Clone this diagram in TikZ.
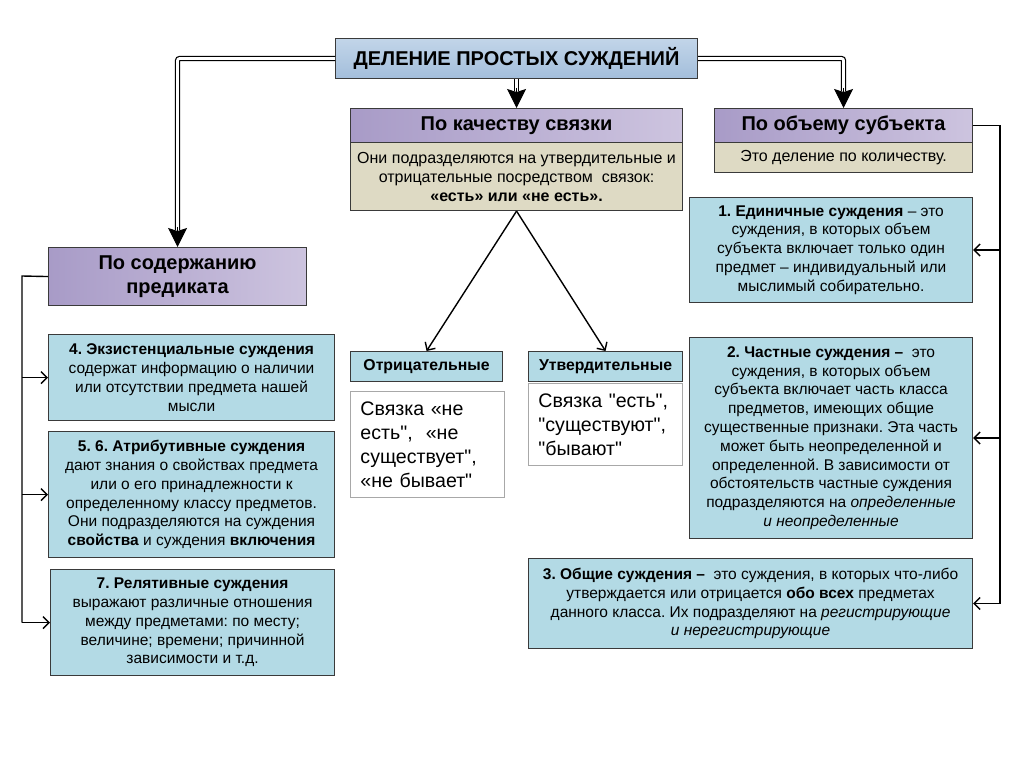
\documentclass[tikz,border=0pt]{standalone}
\usepackage{fontspec}
\setmainfont{Liberation Sans}[Ligatures=TeXOff]
\usetikzlibrary{arrows.meta}
\definecolor{titleA}{HTML}{A3BEDB}
\definecolor{titleB}{HTML}{C2D5E9}
\definecolor{purA}{HTML}{A89BC7}
\definecolor{purB}{HTML}{CDC4DF}
\definecolor{beige}{HTML}{DEDAC4}
\definecolor{aqua}{HTML}{B3DAE5}
\definecolor{bord}{HTML}{3A3A3A}
\definecolor{wbord}{HTML}{A8A8A8}
\newcommand\bodyfs{\fontsize{15.5}{18.8}\selectfont}
\newcommand\headfs{\bfseries\fontsize{20}{24}\selectfont}
\frenchspacing
\begin{document}
\frenchspacing
\begin{tikzpicture}[x=1pt,y=1pt,
  box/.style={draw=bord, line width=1.1pt, anchor=north west, inner sep=2pt, align=center, font=\bodyfs},
  purbox/.style={box, left color=purA, right color=purB, font=\headfs},
  beigebox/.style={box, fill=beige},
  aquabox/.style={box, fill=aqua},
  whitebox/.style={draw=wbord, line width=0.9pt, fill=white, anchor=north west, inner xsep=10pt, inner ysep=4pt, text width=134pt, align=left, font=\fontsize{19.6}{24}\selectfont},
  ln/.style={line width=1.4pt, draw=black},
  arr/.style={ln, -{Straight Barb[length=6pt,width=12pt,line width=1.4pt]}},
  dbl/.style={draw=black, line width=1.2pt, double=white, double distance=2.8pt, rounded corners=2pt},
  bigtip/.style={draw=black, line width=1pt, -{Stealth[length=19pt,width=19pt,inset=3pt]}}
]
\useasboundingbox[fill=white] (0,0) rectangle (1024,-767);

% title
\node[box, top color=titleB, bottom color=titleA, minimum width=362pt, minimum height=40pt,
      font=\bfseries\fontsize{20}{24}\selectfont] (title) at (335,-38) {ДЕЛЕНИЕ ПРОСТЫХ СУЖДЕНИЙ};

% quality
\node[purbox, minimum width=332pt, minimum height=34pt] (qh) at (350,-108) {По качеству связки};
\node[beigebox, minimum width=332pt, minimum height=68pt, font=\fontsize{16}{19}\selectfont] (qb) at (350,-142)
  {Они подразделяются на утвердительные и\\отрицательные посредством\ \ связок:\\\textbf{«есть» или «не есть».}};

% volume
\node[purbox, minimum width=258pt, minimum height=34pt] (vh) at (714,-108) {По объему субъекта};
\node[beigebox, minimum width=258pt, minimum height=30pt, font=\fontsize{16}{19}\selectfont] (vb) at (714,-142) {Это деление по количеству.};

% predicate
\node[purbox, minimum width=258pt, minimum height=58pt, font=\bfseries\fontsize{20}{24}\selectfont] (pred) at (48,-247) {По содержанию\\предиката};

% left boxes
\node[aquabox, minimum width=286pt, minimum height=86pt] (b4) at (48,-334)
  {\textbf{4. Экзистенциальные суждения}\\содержат информацию о наличии\\или отсутствии предмета нашей\\мысли};
\node[aquabox, minimum width=286pt, minimum height=126pt] (b5) at (48,-431)
  {\textbf{5. 6. Атрибутивные суждения}\\дают знания о свойствах предмета\\или о его принадлежности к\\определенному классу предметов.\\Они подразделяются на суждения\\\textbf{свойства} и суждения \textbf{включения}};
\node[aquabox, minimum width=284pt, minimum height=106pt] (b7) at (50,-569)
  {\textbf{7. Релятивные суждения}\\выражают различные отношения\\между предметами: по месту;\\величине; времени; причинной\\зависимости и т.д.};

% middle
\node[aquabox, minimum width=152pt, minimum height=30pt, font=\bfseries\fontsize{15.8}{18}\selectfont] (neg) at (350,-351) {Отрицательные};
\node[aquabox, minimum width=154pt, minimum height=30pt, font=\bfseries\fontsize{15.8}{18}\selectfont] (pos) at (528,-351) {Утвердительные};
\node[whitebox, minimum width=154pt, minimum height=106pt] (w1) at (350,-391)
  {Связка «не\\есть",\ \ «не\\существует",\\«не бывает"};
\node[whitebox, minimum width=154pt, minimum height=82pt] (w2) at (528,-383)
  {Связка "есть",\\"существуют",\\"бывают"};

% right boxes
\node[aquabox, minimum width=283pt, minimum height=105pt] (r1) at (689,-197)
  {\textbf{1. Единичные суждения} – это\\суждения, в которых объем\\субъекта включает только один\\предмет – индивидуальный или\\мыслимый собирательно.};
\node[aquabox, minimum width=283pt, minimum height=201pt] (r2) at (689,-337)
  {\textbf{2. Частные суждения –}\ \ это\\суждения, в которых объем\\субъекта включает часть класса\\предметов, имеющих общие\\существенные признаки. Эта часть\\может быть неопределенной и\\определенной. В зависимости от\\обстоятельств частные суждения\\подразделяются на \textit{определенные}\\\textit{и неопределенные}};
\node[aquabox, minimum width=444pt, minimum height=90pt] (r3) at (528,-558)
  {\textbf{3. Общие суждения –}\ \ это суждения, в которых что-либо\\утверждается или отрицается \textbf{обо всех} предметах\\данного класса. Их подразделяют на \textit{регистрирующие}\\\textit{и нерегистрирующие}};

% double connectors
\draw[dbl] (title.west) -| ([yshift=17pt]pred.north);
\draw[bigtip] ([yshift=20pt]pred.north) -- (pred.north);
\draw[dbl] (title.south) -- ([yshift=17pt]qh.north);
\draw[bigtip] ([yshift=20pt]qh.north) -- (qh.north);
\draw[dbl] (title.east) -| ([yshift=17pt]vh.north);
\draw[bigtip] ([yshift=20pt]vh.north) -- (vh.north);

% quality split
\draw[arr] (qb.south) -- (neg.north);
\draw[arr] (qb.south) -- (pos.north);

% left bracket
\coordinate (lt) at (22,-276);
\draw[ln] (pred.west) -- (lt) -- (b7.west -| lt);
\draw[arr] (b4.west -| lt) -- (b4.west);
\draw[arr] (b5.west -| lt) -- (b5.west);
\draw[arr] (b7.west -| lt) -- (b7.west);

% right bracket
\coordinate (rt) at (1000,-126);
\draw[ln] (vh.east) -- (vh.east -| rt) -- (r3.east -| rt);
\draw[arr] (r1.east -| rt) -- (r1.east);
\draw[arr] (r2.east -| rt) -- (r2.east);
\draw[arr] (r3.east -| rt) -- (r3.east);
\end{tikzpicture}
\end{document}
